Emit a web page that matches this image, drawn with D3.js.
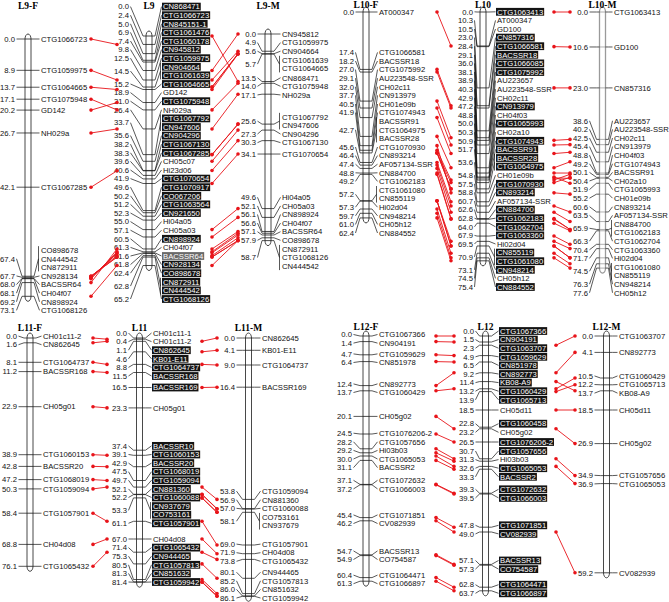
<!DOCTYPE html>
<html><head><meta charset="utf-8">
<script src="https://cdn.jsdelivr.net/npm/d3@7"></script>
<style>body{margin:0;background:#fff}svg{display:block}</style>
</head><body><svg id="c" width="669" height="602"></svg>
<script>
// ---------- DATA (position cM, marker names at that position) ----------
const L9F = [[0.0,["CTG1066723"]],[8.9,["CTG1059975"]],[13.7,["CTG1064665"]],[17.1,["CTG1075948"]],[20.2,["GD142"]],[26.7,["NH029a"]],[42.1,["CTG1067285"]],[67.4,["CO898678","CN444542","CN872911"]],[67.7,["CN928134"]],[68.0,["BACSSR64"]],[68.1,["CH04f07"]],[69.2,["CN898924"]],[73.1,["CTG1068126"]]];
const L9 = [[0.0,["CN868471"]],[2.4,["CTG1066723"]],[5.0,["CN845151-1"]],[6.9,["CTG1061476"]],[7.4,["CTG1060178"]],[9.8,["CN945812"]],[12.5,["CTG1059975"]],[14.5,["CN904664","CTG1061639"]],[15.2,["CTG1064665"]],[18.9,["GD142"]],[21.0,["CTG1075948"]],[26.4,["NH029a"]],[33.7,["CTG1067792","CN947606"]],[35.6,["CN904296"]],[38.2,["CTG1067130"]],[38.3,["CTG1067285"]],[39.6,["CH05c07"]],[40.6,["Hi23d06"]],[41.9,["CTG1070654"]],[49.6,["CTG1070917"]],[50.2,["CO067206"]],[51.2,["CTG1063564"]],[52.3,["CN921650"]],[55.0,["Hi04a05"]],[57.1,["CH05a03"]],[60.5,["CN898924"]],[61.3,["CH04f07"]],[61.6,["BACSSR64"]],[61.8,["CN928134"]],[62.4,["CO898678"]],[62.8,["CN872911","CN444542"]],[65.2,["CTG1068126"]]];
const L9M = [[0.0,["CN945812"]],[4.9,["CTG1059975"]],[5.6,["CN904664"]],[5.7,["CTG1061639","CTG1064665"]],[13.5,["CN868471"]],[14.0,["CTG1075948"]],[17.1,["NH029a"]],[25.6,["CTG1067792","CN947606"]],[27.3,["CN904296"]],[30.3,["CTG1067130"]],[34.1,["CTG1070654"]],[49.6,["Hi04a05"]],[52.1,["CH05a03"]],[56.1,["CN898924"]],[56.6,["CH04f07"]],[57.1,["BACSSR64"]],[57.9,["CO898678"]],[58.7,["CN872911","CTG1068126","CN444542"]]];
const L10F = [[0.0,["AT000347"]],[17.4,["CTG1066581"]],[18.2,["BACSSR18"]],[27.0,["CTG1075992"]],[29.1,["AU223548-SSR"]],[32.0,["CH02c11"]],[37.7,["CN913979"]],[40.5,["CH01e09b"]],[41.9,["CTG1074943"]],[42.7,["BACSSR91","CTG1064975","BACSSR28"]],[45.6,["CTG1070930"]],[46.4,["CN893214"]],[47.4,["AF057134-SSR"]],[48.8,["CN884700"]],[49.2,["CTG1062183"]],[57.2,["CTG1061080","CN855119"]],[57.3,["Hi02d04"]],[59.7,["CN948214"]],[61.0,["CH05h12"]],[62.4,["CN884552"]]];
const L10 = [[0.0,["CTG1063413"]],[10.3,["AT000347"]],[10.5,["GD100"]],[23.0,["CN857316"]],[28.4,["CTG1066581"]],[29.1,["BACSSR18"]],[36.0,["CTG1066085"]],[38.1,["CTG1075992"]],[38.9,["AU223657"]],[40.3,["AU223548-SSR"]],[42.9,["CH02c11"]],[47.2,["CN913979"]],[48.8,["CH04f03"]],[50.0,["CTG1065993"]],[50.3,["CH02a10"]],[50.9,["CTG1074943"]],[51.7,["BACSSR91"]],[53.6,["BACSSR28","CTG1064975"]],[54.8,["CH01e09b"]],[57.5,["CTG1070930"]],[58.8,["CN893214"]],[60.7,["AF057134-SSR"]],[62.6,["CN884700"]],[62.8,["CTG1062183"]],[64.0,["CTG1062704"]],[67.9,["CTG1063360"]],[69.5,["Hi02d04"]],[70.9,["CN855119","CTG1061080"]],[73.1,["CN948214"]],[74.5,["CH05h12"]],[75.4,["CN884552"]]];
const L10M = [[0.0,["CTG1063413"]],[10.6,["GD100"]],[23.0,["CN857316"]],[38.6,["AU223657"]],[40.2,["AU223548-SSR"]],[42.5,["CH02c11"]],[45.4,["CN913979"]],[48.8,["CH04f03"]],[49.2,["CTG1074943"]],[50.1,["BACSSR91"]],[50.4,["CH02a10"]],[51.9,["CTG1065993"]],[55.2,["CH01e09b"]],[60.6,["CN893214"]],[63.5,["AF057134-SSR"]],[65.9,["CN884700","CTG1062183"]],[66.3,["CTG1062704"]],[70.4,["CTG1063360"]],[71.7,["Hi02d04"]],[74.5,["CTG1061080","CN855119"]],[76.3,["CN948214"]],[77.6,["CH05h12"]]];
const L11F = [[0.0,["CH01c11-2"]],[1.6,["CN862645"]],[8.1,["CTG1064737"]],[11.2,["BACSSR168"]],[22.9,["CH05g01"]],[38.9,["CTG1060153"]],[42.8,["BACSSR20"]],[47.2,["CTG1068019"]],[50.3,["CTG1059094"]],[58.4,["CTG1057901"]],[68.8,["CH04d08"]],[76.1,["CTG1065432"]]];
const L11 = [[0.0,["CH01c11-1"]],[0.4,["CH01c11-2"]],[1.1,["CN862645"]],[4.6,["KB01-E11"]],[8.8,["CTG1064737"]],[11.5,["BACSSR168"]],[16.5,["BACSSR169"]],[23.3,["CH05g01"]],[37.4,["BACSSR10"]],[39.1,["CTG1060153"]],[42.9,["BACSSR20"]],[47.5,["CTG1068019"]],[49.7,["CTG1059094"]],[52.1,["CN881360"]],[52.2,["CTG1060088"]],[53.3,["CN937679","CO753161"]],[61.1,["CTG1057901"]],[67.0,["CH04d08"]],[71.4,["CTG1065432"]],[75.3,["CN944465"]],[80.5,["CTG1057813"]],[81.3,["CN851632"]],[81.4,["CTG1059942"]]];
const L11M = [[0.0,["CN862645"]],[4.1,["KB01-E11"]],[9.0,["CTG1064737"]],[16.4,["BACSSR169"]],[53.8,["CTG1059094"]],[56.9,["CN881360"]],[57.0,["CTG1060088"]],[58.1,["CO753161","CN937679"]],[69.0,["CTG1057901"]],[71.9,["CH04d08"]],[73.8,["CTG1065432"]],[80.1,["CN944465"]],[85.2,["CTG1057813"]],[86.0,["CN851632"]],[86.1,["CTG1059942"]]];
const L12F = [[0.0,["CTG1067366"]],[1.4,["CN904191"]],[4.7,["CTG1059629"]],[6.4,["CN851978"]],[12.4,["CN892773"]],[13.7,["CTG1060429"]],[20.1,["CH05g02"]],[24.5,["CTG1076206-2"]],[28.2,["CTG1057656"]],[29.2,["Hi03b03"]],[30.0,["CTG1065053"]],[31.1,["BACSSR2"]],[37.1,["CTG1072632"]],[37.2,["CTG1066003"]],[45.4,["CTG1071851"]],[46.2,["CV082939"]],[54.7,["BACSSR13"]],[54.9,["CO754587"]],[60.4,["CTG1064471"]],[61.3,["CTG1066897"]]];
const L12 = [[0.0,["CTG1067366"]],[1.5,["CN904191"]],[2.3,["CTG1063707"]],[4.9,["CTG1059629"]],[6.5,["CN851978"]],[9.2,["CN892773"]],[11.4,["KB08-A9"]],[13.2,["CTG1060429"]],[13.9,["CTG1065713"]],[18.5,["CH05d11"]],[22.8,["CTG1060458"]],[23.2,["CH05g02"]],[26.5,["CTG1076206-2"]],[30.7,["CTG1057656"]],[31.3,["Hi03b03"]],[32.6,["CTG1065053"]],[33.3,["BACSSR2"]],[39.3,["CTG1072632"]],[39.5,["CTG1066003"]],[47.8,["CTG1071851"]],[49.0,["CV082939"]],[57.1,["BACSSR13"]],[57.3,["CO754587"]],[62.8,["CTG1064471"]],[63.7,["CTG1066897"]]];
const L12M = [[0.0,["CTG1063707"]],[4.1,["CN892773"]],[10.5,["CTG1060429"]],[12.2,["CTG1065713"]],[13.7,["KB08-A9"]],[18.5,["CH05d11"]],[26.9,["CH05g02"]],[34.9,["CTG1057656"]],[36.9,["CTG1065053"]],[59.2,["CV082939"]]];

// markers shown without highlight box on the consensus maps
const L9_plain = ["GD142","NH029a","CH05c07","Hi23d06","Hi04a05","CH05a03","CH04f07"];
const L10_plain = ["AT000347","GD100","AU223657","AU223548-SSR","CH02c11","CH04f03","CH02a10","CH01e09b","AF057134-SSR","Hi02d04","CH05h12"];
const L11_plain = ["CH01c11-1","CH01c11-2","CH05g01","CH04d08"];
const L12_plain = ["CH05d11","CH05g02","Hi03b03"];
const grayBoxes = ["BACSSR64"];

// ---------- LAYOUT ----------
const SP = 8.6, FS = 7.7;
const svg = d3.select("#c");
const RED = "#e8141a";

const maps = {
  L9F:  {title:"L9-F", data:L9F, origin:39, k:3.52, numEnd:15,  bar:28,  nameStart:41,  lo:34, hi:330, ty:9},
  L9:   {title:"L9",   data:L9,  origin:36, k:3.52, numEnd:129, bar:149, nameStart:163, lo:-1e9, hi:299, ty:9, plain:L9_plain},
  L9M:  {title:"L9-M", data:L9M, origin:34, k:3.52, numEnd:256, bar:268, nameStart:282, lo:34, hi:330, ty:9},
  L10F: {title:"L10-F",data:L10F,origin:12, k:3.3, numEnd:354, bar:366, nameStart:379, lo:7, hi:233, ty:8},
  L10:  {title:"L10",  data:L10, origin:12, k:3.3, numEnd:473, bar:483, nameStart:497, lo:7, hi:287, ty:8, plain:L10_plain},
  L10M: {title:"L10-M",data:L10M,origin:12, k:3.3, numEnd:588, bar:602.5, nameStart:614, lo:7, hi:295, ty:8, stroke:"#9a9a9a"},
  L11F: {title:"L11-F",data:L11F,origin:338,k:3.0, numEnd:17,  bar:30,  nameStart:43,  lo:333, hi:598, ty:331},
  L11:  {title:"L11",  data:L11, origin:338,k:3.0, numEnd:127, bar:139.5, nameStart:153, lo:333, hi:582, ty:331, plain:L11_plain},
  L11M: {title:"L11-M",data:L11M,origin:338,k:3.0, numEnd:235, bar:248.5, nameStart:262, lo:333, hi:598, ty:331},
  L12F: {title:"L12-F",data:L12F,origin:336,k:4.0, numEnd:352, bar:366, nameStart:379, lo:331, hi:598, ty:330},
  L12:  {title:"L12",  data:L12, origin:336,k:4.0, numEnd:474, bar:485.5, nameStart:500, lo:331, hi:598, ty:330, plain:L12_plain},
  L12M: {title:"L12-M",data:L12M,origin:336,k:4.0, numEnd:593, bar:606.5, nameStart:619, lo:331, hi:598, ty:330}
};

function layout(des, lo, hi){
  let blocks = des.map(d=>({n:1,sum:d}));
  const first = b => {
    let f = b.sum/b.n - (b.n-1)*SP/2;
    if (f + (b.n-1)*SP > hi) f = hi - (b.n-1)*SP;
    if (f < lo) f = lo;
    return f;
  };
  let changed = true;
  while (changed){
    changed = false;
    for (let i=0;i<blocks.length-1;i++){
      const a=blocks[i], b=blocks[i+1];
      if (first(a) + a.n*SP > first(b) + 0.01){
        blocks.splice(i,2,{n:a.n+b.n,sum:a.sum+b.sum});
        changed = true; break;
      }
    }
  }
  const out=[];
  blocks.forEach(b=>{const f=first(b); for(let j=0;j<b.n;j++) out.push(f+j*SP);});
  return out;
}

function drawMap(m){
  const maxPos = d3.max(m.data, d=>d[0]);
  const y = d3.scaleLinear().domain([0,maxPos]).range([m.origin, m.origin+maxPos*m.k]);
  m.y = y;
  const units=[];
  m.data.forEach((d,i)=>d[1].forEach(n=>units.push({i,name:n,des:y(d[0])})));
  const ly = layout(units.map(u=>u.des), m.lo, m.hi);
  units.forEach((u,j)=>u.ly=ly[j]);
  const g = svg.append("g");
  const bl = m.bar-3, br = m.bar+3;
  const stroke = m.stroke || "#1a1a1a";
  g.append("rect").attr("x",bl).attr("y",y(0)-5).attr("width",6)
    .attr("height",y(maxPos)-y(0)+10).attr("rx",3).attr("ry",5)
    .attr("fill","#fff").attr("stroke",stroke).attr("stroke-width",m.stroke?1.3:0.8);
  g.append("text").attr("x",m.bar).attr("y",m.ty).attr("text-anchor","middle")
    .attr("font-family","'Liberation Serif','Times New Roman',serif").attr("font-weight","bold")
    .attr("font-size",9.5).attr("fill","#000").text(m.title);
  const line = d3.line();
  m.data.forEach((d,i)=>{
    const ya = y(d[0]);
    const us = units.filter(u=>u.i===i);
    const yc = d3.mean(us,u=>u.ly);
    g.append("line").attr("x1",bl).attr("x2",br).attr("y1",ya).attr("y2",ya)
      .attr("stroke",stroke).attr("stroke-width",0.8);
    g.append("path").attr("d",line([[m.numEnd+1.5,yc],[bl-3,ya],[bl,ya]]))
      .attr("fill","none").attr("stroke","#111").attr("stroke-width",0.7);
    g.append("text").attr("x",m.numEnd).attr("y",yc).attr("dy","0.36em").attr("text-anchor","end")
      .attr("font-family","'Liberation Sans',Arial,sans-serif").attr("font-size",FS).attr("fill","#111")
      .text(d[0].toFixed(1));
    const bx = m.nameStart-2.5;
    g.append("path").attr("d",line([[br,ya],[br+3,ya],[us.length>1?bx:m.nameStart-1.5,yc]]))
      .attr("fill","none").attr("stroke","#111").attr("stroke-width",0.7);
    if (us.length>1){
      g.append("line").attr("x1",bx).attr("x2",bx).attr("y1",us[0].ly-4).attr("y2",us[us.length-1].ly+4)
        .attr("stroke","#111").attr("stroke-width",0.7);
    }
    us.forEach(u=>{
      const hl = m.plain && !m.plain.includes(u.name);
      const t = g.append("text").attr("x",m.nameStart).attr("y",u.ly).attr("dy","0.36em")
        .attr("font-family","'Liberation Sans',Arial,sans-serif").attr("font-size",FS)
        .attr("fill",hl?"#fff":"#111").text(u.name);
      if (hl){
        const w = t.node().getComputedTextLength();
        g.insert("rect",()=>t.node()).attr("x",m.nameStart-1).attr("y",u.ly-3.9)
          .attr("width",w+2).attr("height",7.8)
          .attr("fill",grayBoxes.includes(u.name)?"#6a6a6a":"#141414");
      }
    });
  });
}

Object.values(maps).forEach(drawMap);

function links(a,b,x1,x2){
  const pa = new Map();
  a.data.forEach(d=>d[1].forEach(n=>pa.set(n,d[0])));
  const g = svg.append("g");
  b.data.forEach(d=>d[1].forEach(n=>{
    if (!pa.has(n)) return;
    const y1=a.y(pa.get(n)), y2=b.y(d[0]);
    g.append("line").attr("x1",x1).attr("y1",y1).attr("x2",x2).attr("y2",y2)
      .attr("stroke",RED).attr("stroke-width",0.9);
    g.append("circle").attr("cx",x1).attr("cy",y1).attr("r",1.8).attr("fill",RED);
    g.append("circle").attr("cx",x2).attr("cy",y2).attr("r",1.8).attr("fill",RED);
  }));
}
links(maps.L9F, maps.L9, 91, 117);
links(maps.L9, maps.L9M, 212, 238);
links(maps.L10F, maps.L10, 437, 451);
links(maps.L10, maps.L10M, 554, 570);
links(maps.L11F, maps.L11, 93, 107);
links(maps.L11, maps.L11M, 202, 217);
links(maps.L12F, maps.L12, 436, 454);
links(maps.L12, maps.L12M, 556, 575);
</script></body></html>
